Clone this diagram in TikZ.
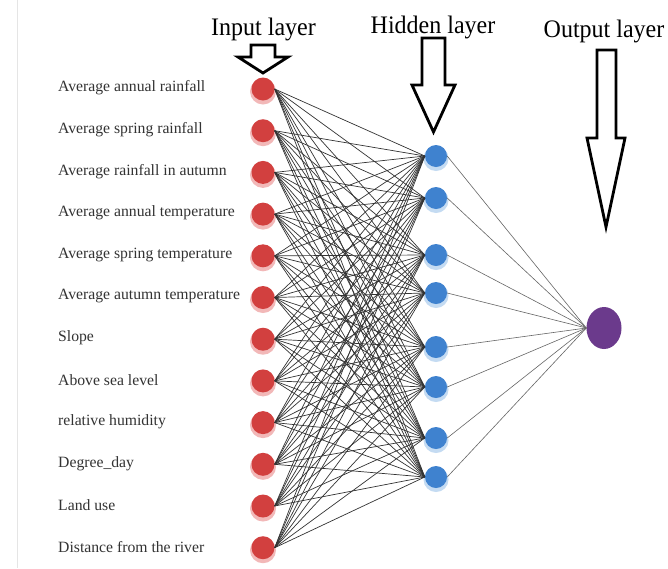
\documentclass[tikz,border=0pt]{standalone}
\usepackage{fontspec}
\setmainfont{Liberation Serif}
\usetikzlibrary{shapes.geometric}
\begin{document}
\begin{tikzpicture}[x=1pt,y=-1pt,
  innode/.style={circle,fill=incol,inner sep=0pt,minimum size=23pt},
  hidnode/.style={circle,fill=hidcol,inner sep=0pt,minimum size=22pt},
  outnode/.style={ellipse,fill=outcol,inner sep=0pt,minimum width=35pt,minimum height=42pt},
  conn/.style={draw=black!80,line width=0.7pt},
  conn2/.style={draw=black!60,line width=0.6pt},
  lbl/.style={anchor=west,font=\fontsize{15.7}{16}\selectfont,text=black!80,inner sep=0pt},
  ttl/.style={anchor=base,font=\fontsize{24}{26}\selectfont,inner sep=0pt,yscale=1.05},
  blockarrow/.style={draw=black,line width=2.8pt,fill=white,line join=miter}]
\definecolor{incol}{HTML}{D2403F}
\definecolor{inshad}{HTML}{F2B8B8}
\definecolor{hidcol}{HTML}{3F82CF}
\definecolor{hidshad}{HTML}{C4DBF2}
\definecolor{outcol}{HTML}{6B3A8C}
\useasboundingbox (0,0) rectangle (668,568);
\fill[white] (0,0) rectangle (668,568);
\draw[black!10,line width=1pt] (17,0) -- (17,568);
% titles
\node[ttl] (tin) at (263.5,35) {Input layer};
\node[ttl] (thid) at (433,33) {Hidden layer};
\node[ttl] (tout) at (604,37) {Output layer};
% block arrows
\draw[blockarrow] (251,45) -- (275,45) -- (275,57) -- (288,57) -- (263,73) -- (238,57) -- (251,57) -- cycle;
\draw[blockarrow] (422,38) -- (445,38) -- (445,85) -- (455,85) -- (433.5,132) -- (412,85) -- (422,85) -- cycle;
\draw[blockarrow] (597,50) -- (616,50) -- (616,138) -- (625,138) -- (606,227) -- (587,138) -- (597,138) -- cycle;
% input nodes
\foreach \i/\t in {1/Average annual rainfall,2/Average spring rainfall,3/Average rainfall in autumn,4/Average annual temperature,5/Average spring temperature,6/Average autumn temperature,7/Slope,8/Above sea level,9/relative humidity,10/Degree\_day,11/Land use,12/Distance from the river}{
  \pgfmathsetmacro{\yy}{89+41.7*(\i-1)}
  \fill[inshad] (263,\yy+2.5) circle (13pt);
  \node[innode] (i\i) at (263,\yy) {};
  \node[lbl] (l\i) at (58,\yy-1) {\t};
}
% hidden nodes
\foreach \j/\yy in {1/156,2/198,3/255,4/293,5/347,6/387,7/438,8/477}{
  \fill[hidshad] (436,\yy+2.5) circle (12.5pt);
  \node[hidnode] (h\j) at (436,\yy) {};
}
% output node
\node[outnode] (o) at (604,328) {};
% connections
\foreach \i in {1,...,12}{
  \foreach \j in {1,...,8}{
    \draw[conn] (i\i.east) -- (h\j.west);
  }
}
\foreach \j in {1,...,8}{
  \draw[conn2] (h\j.east) -- (o.west);
}
\end{tikzpicture}
\end{document}
